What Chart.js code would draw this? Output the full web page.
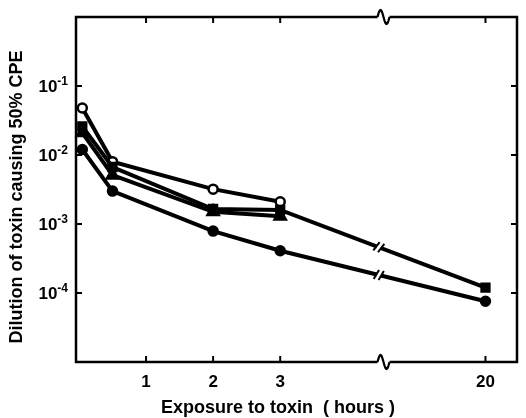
<!DOCTYPE html>
<html>
<head>
<meta charset="utf-8">
<script src="https://cdn.jsdelivr.net/npm/chart.js@4.4.1/dist/chart.umd.min.js"></script>
<style>
    html, body { margin: 0; padding: 0; background: #fff; }
    #wrap { width: 526px; height: 418px; }
</style>
</head>
<body>
<div id="wrap"><canvas id="toxinChart" width="526" height="418"></canvas></div>
<script>
// Время экспозиции (часы) и разведения, дающие 50% ЦПЭ
const hours = [0.05, 0.5, 2, 3, 20];
const openCircle = [4.8e-2, 8.0e-3, 3.2e-3, 2.1e-3, null];
const filledSquare = [2.6e-2, 6.7e-3, 1.65e-3, 1.6e-3, 1.2e-4];
const filledTriangle = [2.1e-2, 5.1e-3, 1.5e-3, 1.3e-3, null];
const filledCircle = [1.2e-2, 3.0e-3, 7.9e-4, 4.1e-4, 7.6e-5];

const xTickHours = [1, 2, 3, 20];
const yTickValues = [1e-1, 1e-2, 1e-3, 1e-4];

const xTitle = 'Exposure to toxin  ( hours )';
const yTitle = 'Dilution of toxin causing 50% CPE';

// Ось X с разрывом: 20 ч ставим сразу после разрыва
const FAR_HOURS = 20;
const FAR_POS = 6.06;
const AXIS_BREAK = 4.54;
const LINE_BREAK = 4.47;

function toAxis(h) {
    return h === FAR_HOURS ? FAR_POS : h;
}

function points(values) {
    return hours
        .map((h, i) => ({ x: toAxis(h), y: values[i] }))
        .filter(p => p.y !== null);
}

function series(values, style, radius, fill) {
    return {
        data: points(values),
        borderColor: '#000',
        borderWidth: 4,
        pointStyle: style,
        pointRadius: radius,
        pointBackgroundColor: fill,
        pointBorderColor: '#000',
        pointBorderWidth: 2.5,
        tension: 0,
        clip: false
    };
}

const FONT = 'Liberation Sans';

// Рамка, внутренние засечки, подписи и значки разрыва
const frameAndBreaks = {
    id: 'frameAndBreaks',
    afterDatasetsDraw(chart) {
        const { ctx, chartArea: a, scales: { x, y } } = chart;
        const line = (x1, y1, x2, y2) => {
            ctx.beginPath();
            ctx.moveTo(x1, y1);
            ctx.lineTo(x2, y2);
            ctx.stroke();
        };
        ctx.save();
        ctx.strokeStyle = '#000';
        ctx.lineWidth = 2.5;
        ctx.strokeRect(a.left, a.top, a.right - a.left, a.bottom - a.top);

        ctx.lineWidth = 2;
        x.ticks.forEach(t => {
            const px = x.getPixelForValue(t.value);
            line(px, a.bottom, px, a.bottom - 6);
            line(px, a.top, px, a.top + 6);
        });
        y.ticks.forEach(t => {
            const py = y.getPixelForValue(t.value);
            line(a.left, py, a.left + 6, py);
            line(a.right, py, a.right - 6, py);
        });

        // подписи 10^n с верхним индексом
        ctx.fillStyle = '#000';
        ctx.textBaseline = 'alphabetic';
        y.ticks.forEach(t => {
            const py = y.getPixelForValue(t.value);
            const exp = String(Math.round(Math.log10(t.value)));
            ctx.font = 'bold 12px ' + FONT;
            const ew = ctx.measureText(exp).width;
            const right = a.left - 8;
            ctx.textAlign = 'right';
            ctx.fillText(exp, right, py - 1);
            ctx.font = 'bold 17px ' + FONT;
            ctx.fillText('10', right - ew, py + 6);
        });

        // названия осей
        ctx.textAlign = 'center';
        ctx.textBaseline = 'middle';
        ctx.font = 'bold 18px ' + FONT;
        ctx.fillText(xTitle, 278, 408);
        ctx.save();
        ctx.translate(17, 197);
        ctx.rotate(-Math.PI / 2);
        ctx.fillText(yTitle, 0, 0);
        ctx.restore();

        // волна на верхней и нижней оси
        const bx = x.getPixelForValue(AXIS_BREAK);
        [a.top, a.bottom].forEach(yy => {
            ctx.fillStyle = '#fff';
            ctx.fillRect(bx - 6, yy - 2, 12, 4);
            ctx.lineWidth = 2.2;
            ctx.beginPath();
            for (let i = 0; i <= 20; i++) {
                const t = i / 20;
                const px = bx - 6 + 12 * t;
                const py = yy - 7 * Math.sin(2 * Math.PI * t);
                if (i === 0) ctx.moveTo(px, py); else ctx.lineTo(px, py);
            }
            ctx.stroke();
        });

        // «//» на линиях, которые идут до 20 ч
        const lb = x.getPixelForValue(LINE_BREAK);
        chart.data.datasets.forEach((ds, di) => {
            const meta = chart.getDatasetMeta(di);
            const n = meta.data.length;
            if (ds.data[n - 1].x !== FAR_POS) return;
            const p1 = meta.data[n - 2];
            const p2 = meta.data[n - 1];
            const k = (lb - p1.x) / (p2.x - p1.x);
            const py = p1.y + k * (p2.y - p1.y);
            const ang = Math.atan2(p2.y - p1.y, p2.x - p1.x);
            ctx.save();
            ctx.translate(lb, py);
            ctx.rotate(ang);
            ctx.fillStyle = '#fff';
            ctx.fillRect(-2, -3, 4, 6);
            ctx.lineWidth = 2;
            [-2.5, 2.5].forEach(dx => line(dx - 1.5, 5, dx + 1.5, -5));
            ctx.restore();
        });
        ctx.restore();
    }
};

new Chart(document.getElementById('toxinChart'), {
    type: 'line',
    data: {
        datasets: [
            series(filledCircle, 'circle', 4.5, '#000'),
            series(filledTriangle, 'triangle', 6.5, '#000'),
            series(filledSquare, 'rect', 5.5, '#000'),
            series(openCircle, 'circle', 4.5, '#fff')
        ]
    },
    options: {
        responsive: false,
        animation: false,
        events: [],
        layout: { padding: { left: 0, right: 3, top: 17, bottom: 0 } },
        plugins: {
            legend: { display: false },
            tooltip: { enabled: false }
        },
        scales: {
            x: {
                type: 'linear',
                min: -0.044,
                max: 6.53,
                grid: { display: false, drawTicks: false },
                border: { display: false },
                afterBuildTicks: scale => {
                    scale.ticks = xTickHours.map(h => ({ value: toAxis(h) }));
                },
                afterFit: scale => { scale.height = 56; },
                ticks: {
                    color: '#000',
                    font: { family: FONT, weight: 'bold', size: 17 },
                    padding: 10,
                    maxRotation: 0,
                    callback: v => (v === FAR_POS ? String(FAR_HOURS) : String(v))
                }
            },
            y: {
                type: 'logarithmic',
                min: 1e-5,
                max: 1,
                grid: { display: false, drawTicks: false },
                border: { display: false },
                afterBuildTicks: scale => {
                    scale.ticks = yTickValues.map(v => ({ value: v }));
                },
                afterFit: scale => { scale.width = 76; },
                ticks: { display: false }
            }
        }
    },
    plugins: [frameAndBreaks]
});
</script>
</body>
</html>
